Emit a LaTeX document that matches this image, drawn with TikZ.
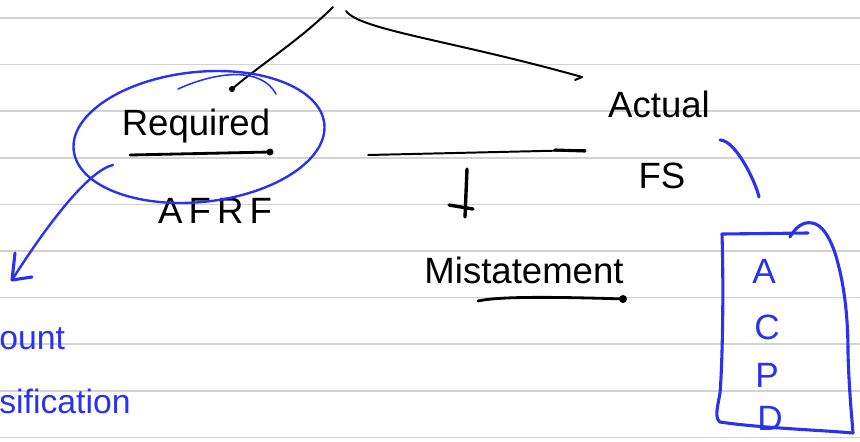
\documentclass[tikz,border=0pt]{standalone}
\usepackage{fontspec}
\setmainfont{Liberation Sans}
\usetikzlibrary{positioning}
\definecolor{pen}{RGB}{40,50,240}
\definecolor{rule}{RGB}{210,210,210}

\begin{document}
\begin{tikzpicture}[x=0.025cm, y=-0.025cm, line cap=round, line join=round,
  ink/.style={font=\fontsize{26}{30}\selectfont, inner sep=0pt},
  blueink/.style={text=pen, font=\fontsize{24}{28}\selectfont, inner sep=0pt},
  letter/.style={text=pen, font=\fontsize{25}{28}\selectfont, inner sep=0pt},
  stroke/.style={line width=1.4pt},
  blue stroke/.style={pen, line width=1.7pt}]

\useasboundingbox (0,0) rectangle (860,441);

%lignes
\foreach \i in {0,...,9}
   {\draw [rule, line width=1.2pt] (0,18+46.6*\i) -- (860,18+46.6*\i);
   }

%textes
\node [ink] (req) at (196,126) {Required};
\node [ink] (afrf) at (215,211) {A\,F\,R\,F};
\node [ink] (act) at (659,104) {Actual};
\node [ink] (fs) at (662,176) {FS};
\node [ink] (mis) at (524,270) {Mistatement};
\node [blueink, anchor=west] (amt) at (-1,339) {ount};
\node [blueink, anchor=west] (cls) at (-1,401) {sification};

%fourche
\coordinate (tl) at (333,7);
\coordinate (tr) at (346,11);
\coordinate (reqtop) at (232,89);
\coordinate (acttop) at (582,77);
\draw [stroke] (tl) .. controls (300,40) and (260,65) .. (reqtop);
\fill (reqtop) circle (3);
\draw [stroke] (tr) .. controls (360,30) and (450,40) .. (acttop);
\draw [stroke] (acttop) -- ++(-7,3);

%soulignes
\draw [line width=2pt] (130,155) -- (270,152);
\fill (270,152) circle (3.5);
\draw [stroke] (368,155) -- (585,150);
\draw [line width=2.2pt] (555,150) -- (585,151);
\draw [line width=2pt] (478,301) .. controls (500,296) and (560,297) .. (625,299);
\fill (623,299) circle (4);

%fleche vers le bas
\coordinate (dtop) at (467,169);
\coordinate (dbot) at (465,217);
\draw [line width=2.4pt] (dtop) -- (dbot);
\draw [line width=2.4pt] (449,205) -- (473,209);

%cercle bleu
\draw [blue stroke, rotate around={6:(199,137)}] (199,137) ellipse (126 and 65);
\draw [pen, line width=1.1pt] (178,89) .. controls (220,70) and (262,68) .. (276,94);

%fleche bleue
\coordinate (arrs) at (113,165);
\coordinate (arre) at (12,280);
\draw [blue stroke] (arrs) .. controls (90,170) and (50,220) .. (arre);
\draw [pen, line width=2.2pt] (15,253) -- (arre) -- (32,277);

%parenthese bleue
\draw [pen, line width=2.2pt] (720,140) .. controls (735,140) and (755,180) .. (759,197);

%boite bleue
\draw [pen, line width=2.2pt] (790,237) .. controls (795,228) and (803,221) .. (812,223)
   .. controls (822,224) and (830,238) .. (835,253)
   .. controls (845,285) and (848,320) .. (848,353)
   .. controls (849,390) and (852,420) .. (853,433);
\draw [pen, line width=2.2pt] (808,233) -- (722,234)
   .. controls (724,300) and (722,370) .. (720,393)
   .. controls (718,405) and (714,418) .. (720,422)
   .. controls (760,428) and (820,430) .. (853,433);
\node [letter] (la) at (764,271) {A};
\node [letter] (lc) at (767,327) {C};
\node [letter] (lp) at (767,375) {P};
\node [letter] (ld) at (770,418) {D};

\end{tikzpicture}
\end{document}
